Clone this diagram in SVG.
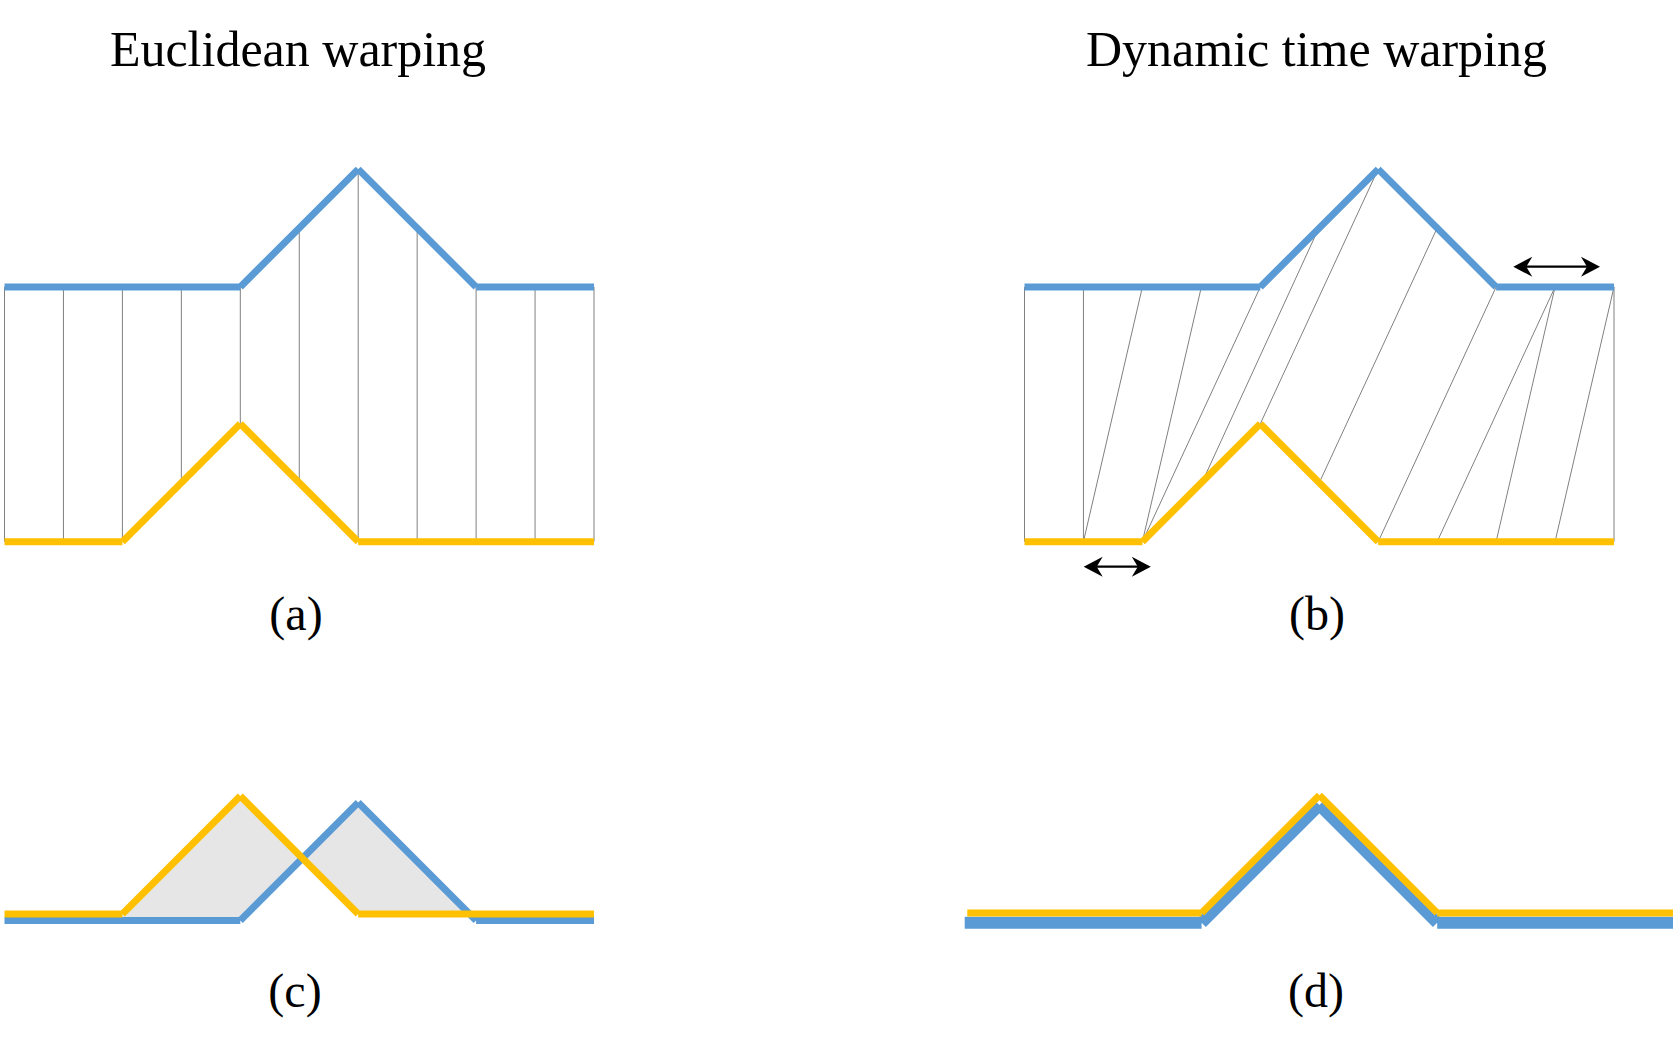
<svg xmlns="http://www.w3.org/2000/svg" width="1679" height="1047" viewBox="0 0 1679 1047">
<style>
.title{font-family:"Liberation Serif","Times New Roman",serif;font-size:50px;fill:#000;text-anchor:middle}
.lab{font-family:"Liberation Serif","Times New Roman",serif;font-size:48px;fill:#000;text-anchor:middle}
.blue{fill:none;stroke:#5B9BD5;stroke-width:7;stroke-linecap:butt}
.yel{fill:none;stroke:#FFC000;stroke-width:7;stroke-linecap:butt}
.conn{stroke:#808080;stroke-width:1;fill:none}
.arr{stroke:#000;stroke-width:2.3;fill:none}
.head{fill:#000;stroke:none}
</style>
<rect width="1679" height="1047" fill="#fff"/>
<text class="title" x="298" y="66">Euclidean warping</text>
<text class="title" x="1316.5" y="66">Dynamic time warping</text>

<g id="connectors">
  <g id="connectors-a">
    <line class="conn" x1="4.5" y1="287" x2="4.5" y2="541.7"/>
    <line class="conn" x1="63.45" y1="287" x2="63.45" y2="541.7"/>
    <line class="conn" x1="122.4" y1="287" x2="122.4" y2="541.7"/>
    <line class="conn" x1="181.35" y1="287" x2="181.35" y2="482.75"/>
    <line class="conn" x1="240.3" y1="287" x2="240.3" y2="423.8"/>
    <line class="conn" x1="299.25" y1="228.05" x2="299.25" y2="482.75"/>
    <line class="conn" x1="358.2" y1="169.1" x2="358.2" y2="541.7"/>
    <line class="conn" x1="417.15" y1="228.05" x2="417.15" y2="541.7"/>
    <line class="conn" x1="476.1" y1="287" x2="476.1" y2="541.7"/>
    <line class="conn" x1="535.05" y1="287" x2="535.05" y2="541.7"/>
    <line class="conn" x1="594" y1="287" x2="594" y2="541.7"/>
  </g>
  <g id="connectors-b">
    <line class="conn" x1="1024.5" y1="287" x2="1024.5" y2="541.7"/>
    <line class="conn" x1="1083.45" y1="287" x2="1083.45" y2="541.7"/>
    <line class="conn" x1="1142.4" y1="287" x2="1083.45" y2="541.7"/>
    <line class="conn" x1="1201.35" y1="287" x2="1142.4" y2="541.7"/>
    <line class="conn" x1="1260.3" y1="287" x2="1142.4" y2="541.7"/>
    <line class="conn" x1="1317" y1="232" x2="1205" y2="476"/>
    <line class="conn" x1="1378.2" y1="169.1" x2="1260.3" y2="423.8"/>
    <line class="conn" x1="1437.15" y1="228.05" x2="1319.25" y2="482.75"/>
    <line class="conn" x1="1496.1" y1="287" x2="1378.2" y2="541.7"/>
    <line class="conn" x1="1555.05" y1="287" x2="1437.15" y2="541.7"/>
    <line class="conn" x1="1555.05" y1="287" x2="1496.1" y2="541.7"/>
    <line class="conn" x1="1614" y1="287" x2="1555.05" y2="541.7"/>
    <line class="conn" x1="1614" y1="287" x2="1614" y2="541.7"/>
  </g>
</g>

<g id="panel-a">
  <path class="blue" d="M4.5,287 L240.3,287 M240.3,287 L358.2,169.1 M358.2,169.1 L476.1,287 M476.1,287 L594,287"/>
  <path class="yel" d="M4.5,541.7 L122.4,541.7 M122.4,541.7 L240.3,423.8 M240.3,423.8 L358.2,541.7 M358.2,541.7 L594,541.7"/>
  <text class="lab" x="296" y="630">(a)</text>
</g>

<g id="panel-b">
  <path class="blue" d="M1024.5,287 L1260.3,287 M1260.3,287 L1378.2,169.1 M1378.2,169.1 L1496.1,287 M1496.1,287 L1614,287"/>
  <path class="yel" d="M1024.5,541.7 L1142.4,541.7 M1142.4,541.7 L1260.3,423.8 M1260.3,423.8 L1378.2,541.7 M1378.2,541.7 L1614,541.7"/>
  <g id="arrow-top">
    <line class="arr" x1="1525" y1="266.7" x2="1588" y2="266.7"/>
    <polygon class="head" points="1513.3,266.7 1532.3,256.7 1526.3,266.7 1532.3,276.7"/>
    <polygon class="head" points="1600,266.7 1581,256.7 1587,266.7 1581,276.7"/>
  </g>
  <g id="arrow-bottom">
    <line class="arr" x1="1095" y1="566.7" x2="1139" y2="566.7"/>
    <polygon class="head" points="1083.7,566.7 1102.7,556.7 1096.7,566.7 1102.7,576.7"/>
    <polygon class="head" points="1150.8,566.7 1131.8,556.7 1137.8,566.7 1131.8,576.7"/>
  </g>
  <text class="lab" x="1317" y="630">(b)</text>
</g>

<g id="panel-c">
  <polygon fill="#E6E6E6" points="122.4,914 240.3,796 302.55,858.25 240.3,920.5 122.4,920.5"/>
  <polygon fill="#E6E6E6" points="302.55,858.25 358.2,802.5 469.7,914 358.2,914"/>
  <path class="blue" d="M4.5,920.5 L240.3,920.5 M240.3,920.5 L358.2,802.5 M358.2,802.5 L476.1,920.5 M476.1,920.5 L594,920.5"/>
  <path class="yel" d="M4.5,914 L122.4,914 M122.4,914 L240.3,796 M240.3,796 L358.2,914 M358.2,914 L594,914"/>
  <text class="lab" x="295" y="1007">(c)</text>
</g>

<g id="panel-d">
  <path class="blue" style="stroke-width:12" d="M964.7,922.7 L1201.6,922.7 M1201.6,922.7 L1319.4,804.9 M1319.4,804.9 L1437.2,922.7 M1437.2,922.7 L1673,922.7"/>
  <path class="yel" d="M967.3,913 L1201.6,913 M1201.6,913 L1319.4,795.2 M1319.4,795.2 L1437.2,913 M1437.2,913 L1673,913"/>
  <text class="lab" x="1316" y="1007">(d)</text>
</g>
</svg>
